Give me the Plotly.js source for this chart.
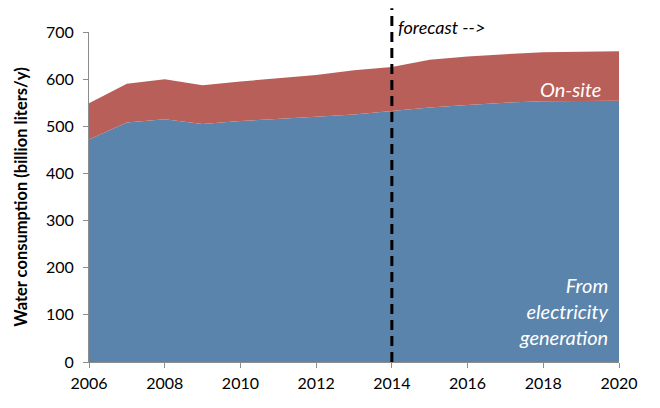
<!DOCTYPE html>
<html>
<head>
<meta charset="utf-8">
<script src="https://cdn.plot.ly/plotly-3.0.1.min.js"></script>
<style>html,body{margin:0;padding:0;background:#fff;}#chart{width:660px;height:408px;}</style>
</head>
<body>
<div id="chart"></div>
<script>
var years = [2006,2007,2008,2009,2010,2011,2012,2013,2014,2015,2016,2017,2018,2019,2020];
var electricity = [472,508,515,505,511,515,520,525,532,540,545,550,553,554,554];
var onsite = [77,82,85,82,84,87,89,94,94,101,103,103,104,104,105];
var xTicks = [2006,2008,2010,2012,2014,2016,2018,2020];
var yTicks = [0,100,200,300,400,500,600,700];
var forecastYear = 2014;

var font = "Lato, 'Open Sans', sans-serif";

var traces = [
  {x: years, y: electricity, type: 'scatter', mode: 'lines', stackgroup: 'one',
   line: {width: 0}, fillcolor: 'rgb(91,132,172)', name: 'From electricity generation', hoverinfo: 'none'},
  {x: years, y: onsite, type: 'scatter', mode: 'lines', stackgroup: 'one',
   line: {width: 0}, fillcolor: 'rgb(184,95,89)', name: 'On-site', hoverinfo: 'none'}
];

var layout = {
  width: 660, height: 408,
  margin: {l: 89, r: 41, t: 32, b: 46},
  paper_bgcolor: '#fff', plot_bgcolor: '#fff',
  showlegend: false,
  font: {family: font, size: 16, color: '#000'},
  xaxis: {
    range: [2006, 2020], tickvals: xTicks, ticktext: xTicks.map(String),
    showgrid: false, zeroline: false, showline: true, linecolor: '#8c8c8c', linewidth: 1,
    ticks: 'outside', ticklen: 5, tickcolor: '#8c8c8c', tickfont: {size: 16, family: font},
    ticklabelstandoff: 2
  },
  yaxis: {
    range: [0, 700], tickvals: yTicks, ticktext: yTicks.map(String),
    showgrid: false, zeroline: false, showline: true, linecolor: '#8c8c8c', linewidth: 1,
    ticks: 'outside', ticklen: 5, tickcolor: '#8c8c8c', tickfont: {size: 16, family: font},
    ticklabelstandoff: 6,
    title: {text: '<b>Water consumption (billion liters/y)</b>', font: {size: 16.5, family: font}, standoff: 14}
  },
  shapes: [
    {type: 'line', xref: 'x', yref: 'paper', x0: forecastYear, x1: forecastYear, y0: 0, y1: 1.072,
     line: {color: '#000', width: 3, dash: '10px,6px'}}
  ],
  annotations: [
    {xref: 'x', yref: 'paper', x: forecastYear, y: 1.014, xanchor: 'left', yanchor: 'middle', xshift: 4,
     text: '<i>forecast --></i>', showarrow: false, font: {size: 18, family: font, color: '#000'}},
    {xref: 'paper', yref: 'y', x: 0.97, y: 580, xanchor: 'right', yanchor: 'middle',
     text: '<i>On-site</i>', showarrow: false, font: {size: 20, family: font, color: '#fff'}},
    {xref: 'paper', yref: 'y', x: 0.985, y: 109, xanchor: 'right', yanchor: 'middle', align: 'right',
     text: '<i>From<br>electricity<br>generation</i>', showarrow: false,
     font: {size: 20, family: font, color: '#fff'}}
  ]
};

Plotly.newPlot('chart', traces, layout, {staticPlot: true, displayModeBar: false});
</script>
</body>
</html>
